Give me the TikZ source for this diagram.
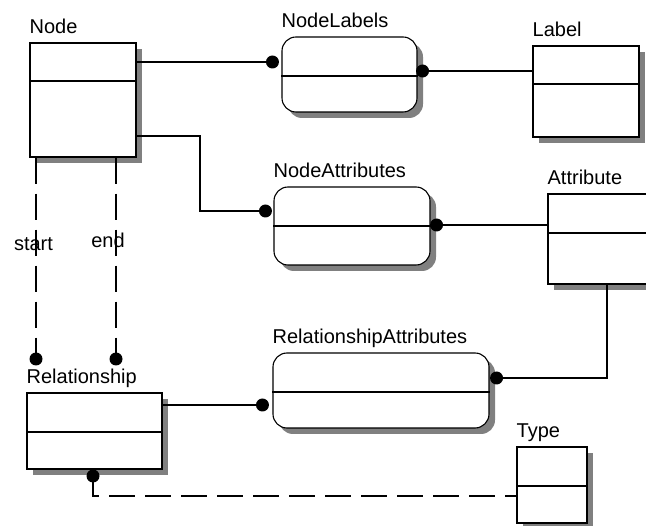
\documentclass[tikz,border=0pt]{standalone}
\usepackage{fontspec}
\setmainfont{Liberation Sans}
\usepackage{tikz}
\usetikzlibrary{positioning, calc, shadows}

\tikzset{
  entity/.style={draw, fill=white, line width=1.1pt, inner sep=0pt,
    general shadow={shadow xshift=6pt, shadow yshift=-6pt, fill=black!50}},
  assoc/.style={entity, rounded corners=14pt},
  title/.style={anchor=base west, inner sep=0pt, yshift=9pt},
  link/.style={line width=1.1pt},
  optlink/.style={line width=1.1pt, dash pattern=on 26pt off 10pt},
  tag/.style={inner sep=0pt, font=\fontsize{20}{22}\selectfont}
}

\begin{document}
\begin{tikzpicture}[x=1pt, y=-1pt, font=\fontsize{20}{22}\selectfont]
    \useasboundingbox (0,0) rectangle (646,526);

    % Entities and associations
    \node[entity, minimum width=106pt, minimum height=114pt, label={[title]north west:Node}] (node) at (83,100) {};
    \node[assoc, minimum width=135pt, minimum height=75pt, label={[title]north west:NodeLabels}] (nodelabels) at (349.5,74.5) {};
    \node[entity, minimum width=106pt, minimum height=91pt, label={[title]north west:Label}] (label) at (586,91.5) {};
    \node[assoc, minimum width=156pt, minimum height=78pt, label={[title]north west:NodeAttributes}] (nodeattrs) at (352,226) {};
    \node[entity, minimum width=108pt, minimum height=90pt, label={[title]north west:Attribute}] (attribute) at (602,239) {};
    \node[entity, minimum width=135pt, minimum height=76pt, label={[title]north west:Relationship}] (relationship) at (94.5,431) {};
    \node[assoc, minimum width=216pt, minimum height=75pt, label={[title]north west:RelationshipAttributes}] (relattrs) at (381,390.5) {};
    \node[entity, minimum width=70pt, minimum height=76pt, label={[title]north west:Type}] (type) at (552,485) {};

    % dividers
    \draw[link] (node.west |- 0,81) -- (node.east |- 0,81);
    \draw[link] (nodelabels.west |- 0,76) -- (nodelabels.east |- 0,76);
    \draw[link] (label.west |- 0,84) -- (label.east |- 0,84);
    \draw[link] (nodeattrs.west |- 0,226) -- (nodeattrs.east |- 0,226);
    \draw[link] (attribute.west |- 0,233) -- (attribute.east |- 0,233);
    \draw[link] (relationship.west |- 0,432) -- (relationship.east |- 0,432);
    \draw[link] (relattrs.west |- 0,392) -- (relattrs.east |- 0,392);
    \draw[link] (type.west |- 0,486) -- (type.east |- 0,486);

    % connector ends
    \coordinate (nl-in) at ([xshift=-9pt]nodelabels.west |- 0,62);
    \coordinate (nl-out) at ([xshift=5pt]nodelabels.east |- 0,71);
    \coordinate (na-in) at ([xshift=-8pt]nodeattrs.west |- 0,211);
    \coordinate (na-out) at ([xshift=6pt]nodeattrs.east |- 0,225);
    \coordinate (ra-in) at ([xshift=-10pt]relattrs.west |- 0,405);
    \coordinate (ra-out) at ([xshift=7pt]relattrs.east |- 0,378);
    \coordinate (rel-start) at (36,359);
    \coordinate (rel-end) at (116,359);
    \coordinate (rel-type) at (93,476);
    \coordinate (bend-na) at (200,136);
    \coordinate (bend-ra) at (607,378);
    \coordinate (bend-ty) at (93,496);

    % connectors
    \draw[link] (node.east |- nl-in) -- (nl-in);
    \draw[link] (nl-out) -- (label.west |- nl-out);
    \draw[link] (node.east |- bend-na) -- (bend-na) |- (na-in);
    \draw[link] (na-out) -- (attribute.west |- na-out);
    \draw[link] (attribute.south -| bend-ra) -- (bend-ra) -- (ra-out);
    \draw[link] (relationship.east |- ra-in) -- (ra-in);
    \draw[optlink] (node.south -| rel-start) -- node[tag, pos=0.43, xshift=-2.5pt] {start} (rel-start);
    \draw[optlink] (node.south -| rel-end) -- node[tag, pos=0.41, xshift=-8pt] {end} (rel-end);
    \draw[optlink] (rel-type) -- (bend-ty) -- (type.west |- bend-ty);

    % dots
    \foreach \c in {nl-in, nl-out, na-in, na-out, ra-in, ra-out, rel-start, rel-end, rel-type}
      \fill (\c) circle (6.5pt);
\end{tikzpicture}
\end{document}
